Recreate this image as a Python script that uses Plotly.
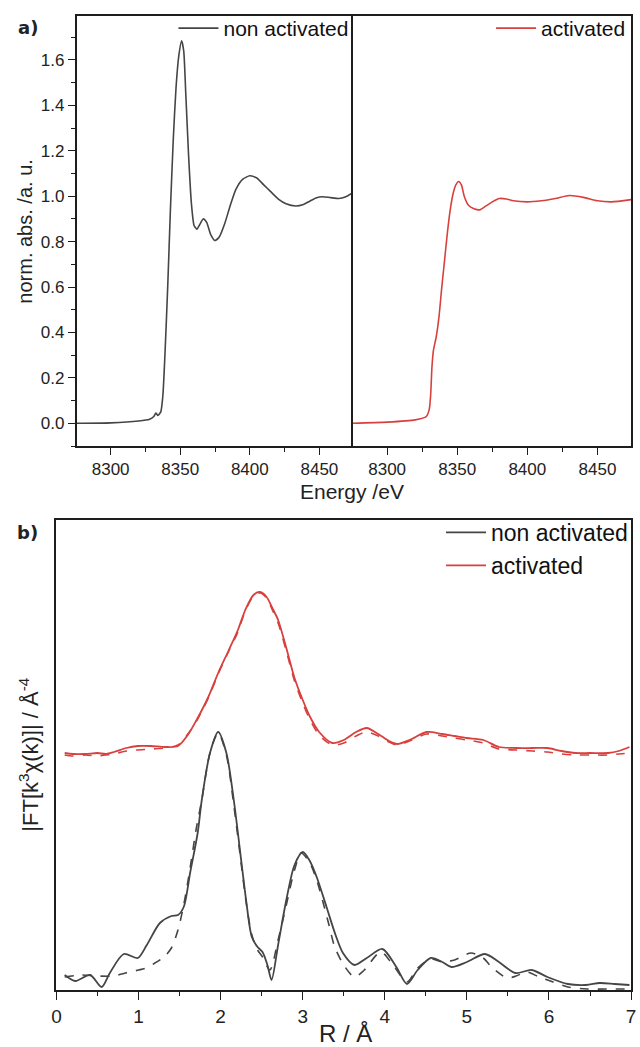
import plotly.graph_objects as go

# ---------------- data: XANES (panel a) ----------------
E_non = [8275, 8300, 8320, 8328, 8331, 8332.5, 8334, 8336, 8337.5, 8339, 8341, 8343, 8345, 8347, 8349,
         8351, 8352.5, 8354, 8356, 8358, 8360, 8362, 8364, 8366.5, 8369, 8372, 8375, 8378, 8382, 8386,
         8390, 8395, 8400, 8405, 8410, 8415, 8421, 8426, 8433, 8438, 8443, 8448, 8452, 8458, 8464, 8469, 8474]
mu_non = [0.0, 0.002, 0.01, 0.018, 0.03, 0.045, 0.035, 0.05, 0.12, 0.3, 0.6, 0.95, 1.25, 1.48, 1.62,
          1.685, 1.64, 1.45, 1.18, 0.97, 0.87, 0.855, 0.875, 0.9, 0.885, 0.83, 0.805, 0.82, 0.88, 0.96,
          1.03, 1.075, 1.09, 1.08, 1.05, 1.02, 0.985, 0.967, 0.957, 0.962, 0.978, 0.993, 0.998, 0.994, 0.99, 0.998, 1.014]

E_act = [8275, 8300, 8320, 8328, 8330, 8331, 8332, 8333, 8335, 8337, 8339, 8341, 8343, 8345, 8347,
         8349, 8351, 8353, 8355, 8358, 8362, 8366, 8370, 8375, 8380, 8385, 8390, 8400, 8410, 8420,
         8430, 8440, 8450, 8460, 8474]
mu_act = [0.0, 0.005, 0.015, 0.03, 0.06, 0.12, 0.25, 0.32, 0.38, 0.47, 0.6, 0.72, 0.84, 0.94, 1.01,
          1.05, 1.065, 1.05, 1.0, 0.96, 0.945, 0.94, 0.955, 0.975, 0.99, 0.988, 0.98, 0.975, 0.98, 0.99,
          1.003, 0.995, 0.98, 0.975, 0.985]

# ---------------- data: FT (panel b), arbitrary units ----------------
R_non = [0.1, 0.23, 0.41, 0.55, 0.65, 0.82, 0.99, 1.1, 1.26, 1.4, 1.48, 1.55, 1.63, 1.72, 1.77, 1.87,
         1.97, 2.07, 2.16, 2.26, 2.31, 2.38, 2.45, 2.51, 2.57, 2.62, 2.7, 2.8, 2.9, 3.0, 3.08, 3.17,
         3.29, 3.4, 3.49, 3.63, 3.78, 3.97, 4.14, 4.27, 4.4, 4.56, 4.7, 4.81, 5.0, 5.22, 5.39, 5.59,
         5.79, 5.98, 6.23, 6.45, 6.62, 6.8, 6.98]
FT_non = [15, 9, 15, 3, 17, 36, 32, 45, 67, 74, 75, 83, 118, 157, 190, 237,
          258, 237, 190, 123, 90, 53, 43, 38, 25, 10, 45, 90, 125, 138, 130, 113,
          83, 55, 37, 25, 32, 41, 23, 6, 20, 32, 28, 23, 28, 36, 28, 17,
          20, 13, 6, 5, 7, 6, 5]

R_non_fit = [0.1, 0.3, 0.5, 0.7, 0.84, 1.0, 1.09, 1.2, 1.31, 1.4, 1.48, 1.55, 1.63, 1.7, 1.77, 1.87,
             1.97, 2.07, 2.16, 2.26, 2.31, 2.38, 2.45, 2.51, 2.6, 2.7, 2.8, 2.9, 2.98, 3.08, 3.17,
             3.24, 3.32, 3.39, 3.5, 3.63, 3.75, 3.95, 4.1, 4.27, 4.4, 4.56, 4.7, 4.85, 5.05, 5.2,
             5.3, 5.49, 5.6, 5.73, 5.88, 6.05, 6.23, 6.47, 6.7, 6.98]
FT_non_fit = [13, 15, 14, 14, 17, 20, 22, 27, 33, 42, 60, 85, 123, 160, 190, 237,
              257, 235, 185, 120, 88, 55, 40, 33, 20, 50, 85, 120, 137, 128, 110,
              90, 65, 43, 25, 13, 20, 38, 25, 8, 22, 31, 28, 30, 37, 32,
              23, 12, 14, 18, 13, 8, 3, 1, 1, 1]

R_act = [0.1, 0.2, 0.35, 0.5, 0.6, 0.7, 0.85, 0.99, 1.15, 1.33, 1.48, 1.6, 1.72, 1.85, 1.97, 2.1,
         2.21, 2.3, 2.4, 2.48, 2.56, 2.63, 2.7, 2.8, 2.9, 3.0, 3.09, 3.2, 3.36, 3.5, 3.65, 3.78,
         3.92, 4.05, 4.15, 4.3, 4.51, 4.7, 4.85, 5.0, 5.2, 5.39, 5.6, 5.8, 5.98, 6.15, 6.32, 6.5,
         6.72, 6.85, 6.98]
FT_act = [237, 236, 236, 237, 236, 238, 242, 244, 244, 243, 244, 255, 272, 293, 317, 340,
          360, 380, 395, 398, 393, 382, 370, 342, 312, 290, 273, 258, 247, 250, 258, 262,
          256, 249, 246, 250, 258, 256, 254, 252, 250, 243, 242, 242, 242, 239, 237, 237,
          237, 239, 243]
FT_act_fit = [235, 234, 235, 234, 235, 236, 239, 240, 241, 242, 245, 256, 271, 292, 316, 339,
              358, 379, 394, 397, 392, 380, 367, 339, 309, 287, 270, 255, 245, 247, 254, 258,
              254, 248, 245, 249, 256, 254, 252, 250, 247, 241, 240, 239, 238, 236, 235, 235,
              235, 236, 237]

# ---------------- styling ----------------
W, H = 640, 1047
BLACK = "#454545"
RED = "#d8403e"
AX = "#1e1e1e"
FONT = "Liberation Sans, Arial, sans-serif"

def px_x(p):
    return p / W

def px_y(p):
    return 1 - p / H

fig = go.Figure()

fig.add_trace(go.Scatter(x=E_non, y=mu_non, mode="lines", name="non activated",
                         line=dict(color=BLACK, width=1.6, shape="spline", smoothing=0.6),
                         xaxis="x", yaxis="y", legend="legend"))
fig.add_trace(go.Scatter(x=E_act, y=mu_act, mode="lines", name="activated",
                         line=dict(color=RED, width=1.6, shape="spline", smoothing=0.6),
                         xaxis="x2", yaxis="y2", legend="legend2"))

fig.add_trace(go.Scatter(x=R_non, y=FT_non, mode="lines", name="non activated",
                         line=dict(color=BLACK, width=1.8, shape="spline", smoothing=0.8),
                         xaxis="x3", yaxis="y3", legend="legend3"))
fig.add_trace(go.Scatter(x=R_act, y=FT_act, mode="lines", name="activated",
                         line=dict(color=RED, width=1.8, shape="spline", smoothing=0.8),
                         xaxis="x3", yaxis="y3", legend="legend3"))
fig.add_trace(go.Scatter(x=R_non_fit, y=FT_non_fit, mode="lines", showlegend=False,
                         line=dict(color=BLACK, width=1.6, dash="dash", shape="spline", smoothing=0.8),
                         xaxis="x3", yaxis="y3"))
fig.add_trace(go.Scatter(x=R_act, y=FT_act_fit, mode="lines", showlegend=False,
                         line=dict(color=RED, width=1.6, dash="dash", shape="spline", smoothing=0.8),
                         xaxis="x3", yaxis="y3"))

top_dom = [px_y(446), px_y(15.7)]
bot_dom = [px_y(990), px_y(520)]

common_x = dict(showline=True, linecolor=AX, linewidth=1.5, mirror=True, showgrid=False, zeroline=False,
                ticks="outside", ticklen=7, tickwidth=1.3, tickcolor=AX, ticklabeloverflow="allow",
                tickfont=dict(family=FONT, size=17, color="#222"))

fig.update_layout(
    width=W, height=H, margin=dict(l=0, r=0, t=0, b=0),
    paper_bgcolor="white", plot_bgcolor="white",
    font=dict(family=FONT, color="#222"),
    xaxis=dict(domain=[px_x(72.7), px_x(353.3)], range=[8275.5, 8474], anchor="y",
               tickvals=[8300, 8350, 8400, 8450],
               minor=dict(tickvals=[8325, 8375, 8425], ticklen=4, ticks="outside", tickcolor=AX),
               **common_x),
    yaxis=dict(domain=top_dom, range=[-0.1, 1.795], anchor="x",
               tickvals=[0.0, 0.2, 0.4, 0.6, 0.8, 1.0, 1.2, 1.4, 1.6], tickformat=".1f",
               minor=dict(tickvals=[-0.1, 0.1, 0.3, 0.5, 0.7, 0.9, 1.1, 1.3, 1.5, 1.7], ticklen=4,
                          ticks="outside", tickcolor=AX),
               **{**common_x, "mirror": False}),
    xaxis2=dict(domain=[px_x(353.3), px_x(636)], range=[8275.5, 8474], anchor="y2",
                tickvals=[8300, 8350, 8400, 8450],
                minor=dict(tickvals=[8325, 8375, 8425], ticklen=4, ticks="outside", tickcolor=AX),
                **common_x),
    yaxis2=dict(domain=top_dom, range=[-0.1, 1.795], anchor="x2", showline=True, linecolor=AX,
                linewidth=1.5, mirror=True, showgrid=False, zeroline=False, showticklabels=False,
                ticks=""),
    xaxis3=dict(domain=[px_x(52.3), px_x(636)], range=[0, 7], anchor="y3",
                tickvals=[0, 1, 2, 3, 4, 5, 6, 7],
                minor=dict(tickvals=[0.5, 1.5, 2.5, 3.5, 4.5, 5.5, 6.5], ticklen=4, ticks="outside",
                           tickcolor=AX),
                **{**common_x, "ticklen": 8, "tickfont": dict(family=FONT, size=19, color="#222")}),
    yaxis3=dict(domain=bot_dom, range=[0, 470], anchor="x3", showline=True, linecolor=AX,
                linewidth=1.5, mirror=True, showgrid=False, zeroline=False, showticklabels=False,
                ticks=""),
    legend=dict(x=px_x(354), xanchor="right", y=px_y(8), yanchor="top",
                bgcolor="rgba(0,0,0,0)", font=dict(family=FONT, size=21, color="#111"),
                itemwidth=40, tracegroupgap=0),
    legend2=dict(x=px_x(636), xanchor="right", y=px_y(8), yanchor="top",
                 bgcolor="rgba(0,0,0,0)", font=dict(family=FONT, size=21, color="#111"),
                 itemwidth=40, tracegroupgap=0),
    legend3=dict(x=px_x(638), xanchor="right", y=px_y(511), yanchor="top",
                 bgcolor="rgba(0,0,0,0)", font=dict(family=FONT, size=23, color="#111"),
                 itemwidth=40, tracegroupgap=0),
)

def ann(text, x, y, size, family=FONT, angle=0):
    return dict(text=text, x=px_x(x), y=px_y(y), xref="paper", yref="paper", showarrow=False,
                xanchor="center", yanchor="middle", textangle=angle,
                font=dict(family=family, size=size, color="#222"))

annotations = [
    ann("<b>a)</b>", 23, 28, 18, family="DejaVu Sans"),
    ann("<b>b)</b>", 23, 532, 18, family="DejaVu Sans"),
    ann("Energy /eV", 353, 491, 21),
    ann("norm. abs. /a. u.", 20, 231, 20, angle=-90),
    ann("|FT[k<sup>3</sup>χ(k)]| / Å<sup>-4</sup>", 24, 755, 22, angle=-90),
    ann("R / Å", 346, 1033, 24),
]
fig.update_layout(annotations=annotations)

fig.write_html("out.html")
